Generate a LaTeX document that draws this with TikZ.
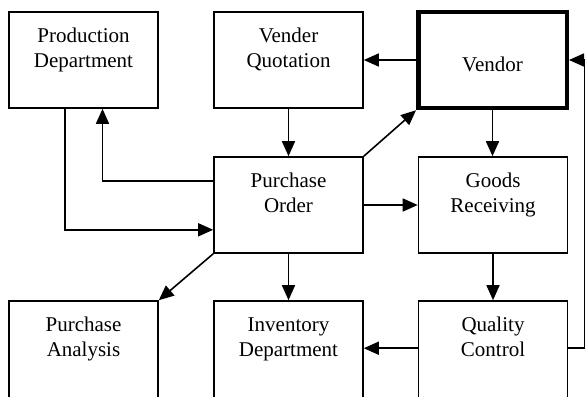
\documentclass[tikz,border=0pt]{standalone}
\usepackage{fontspec}
\setmainfont{Liberation Serif}
\usetikzlibrary{arrows.meta,calc}
\tikzset{
  box/.style={draw, line width=1.6pt, minimum width=149pt, minimum height=96pt, inner sep=0pt},
  lowbox/.style={box, minimum height=100pt},
  txt/.style={inner sep=0pt, align=center, font=\fontsize{21}{25}\selectfont},
  arr/.style={line width=1.6pt, -{Triangle[length=15pt,width=13pt]}},
}
\begin{document}
\begin{tikzpicture}[x=1pt,y=-1pt]
\useasboundingbox (0,0) rectangle (585,396);
% boxes
\node[box] (pd) at (83.5,60) {};
\node[box] (vq) at (288.5,60) {};
\node[box, line width=4.5pt, minimum width=148.5pt] (vd) at (492.5,60) {};
\node[box] (po) at (288.5,205) {};
\node[box] (gr) at (493,205) {};
\node[lowbox] (pa) at (83.5,351) {};
\node[lowbox] (id) at (288.5,351) {};
\node[lowbox] (qc) at (493,351) {};
% labels
\node[txt, anchor=north] (pdt) at ($(pd.north)+(0,13.5)$) {\strut Production\\Department};
\node[txt, anchor=north] (vqt) at ($(vq.north)+(0,13.5)$) {\strut Vender\\Quotation};
\node[txt, anchor=base] (vdt) at (492.5,71) {Vendor};
\node[txt, anchor=north] (pot) at ($(po.north)+(0,13.5)$) {\strut Purchase\\Order};
\node[txt, anchor=north] (grt) at ($(gr.north)+(0,13.5)$) {\strut Goods\\Receiving};
\node[txt, anchor=north] (pat) at ($(pa.north)+(0,13.5)$) {\strut Purchase\\Analysis};
\node[txt, anchor=north] (idt) at ($(id.north)+(0,13.5)$) {\strut Inventory\\Department};
\node[txt, anchor=north] (qct) at ($(qc.north)+(0,13.5)$) {\strut Quality\\Control};
% connector end points
\coordinate (rt) at (585.2,0);
\coordinate (poa) at ($(po.north west)+(0,25)$);
\coordinate (pob) at ($(po.south west)+(0,-24)$);
\coordinate (pdl) at ($(pd.south)+(-18.5,0)$);
\coordinate (pdr) at ($(pd.south)+(19,0)$);
\coordinate (qcl) at ($(qc.north west)+(0,48)$);
\coordinate (qcr) at ($(qc.north east)+(0,48)$);
\coordinate (idr) at ($(id.north east)+(0,48)$);
% connectors
\draw[arr] (vd.west) -- (vq.east);
\draw[arr] (vq.south) -- (po.north);
\draw[arr] (poa) -| (pdr);
\draw[arr] (pdl) |- (pob);
\draw[arr] (po.north east) -- (vd.south west);
\draw[arr] (vd.south) -- (vd.south |- gr.north);
\draw[arr] (po.east) -- (gr.west);
\draw[arr] (gr.south) -- (qc.north);
\draw[arr] (qcl) -- (idr);
\draw[arr] (po.south) -- (id.north);
\draw[arr] (po.south west) -- (pa.north east);
\draw[arr] (qcr) -- (qcr -| rt) -- (vd.east -| rt) -- (vd.east);
\end{tikzpicture}
\end{document}
